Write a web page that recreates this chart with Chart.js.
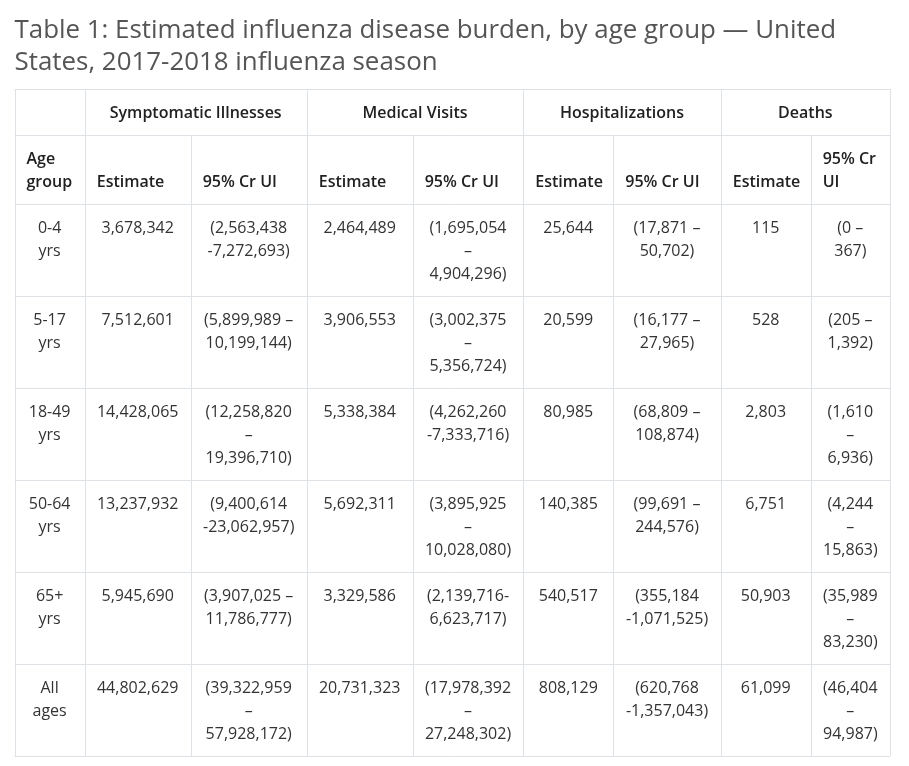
<!DOCTYPE html>
<html>
<head>
<meta charset="utf-8">
<script src="https://cdn.jsdelivr.net/npm/chart.js@4.4.1/dist/chart.umd.min.js"></script>
<style>
    html, body { margin: 0; padding: 0; background: #fff; }
</style>
</head>
<body>
<canvas id="burdenTable" width="909" height="766"></canvas>
<script>
// Table data
const titleLines = ['Table 1: Estimated influenza disease burden, by age group \u2014 United', 'States, 2017-2018 influenza season'];
const ageGroups = ['0-4 yrs', '5-17 yrs', '18-49 yrs', '50-64 yrs', '65+ yrs', 'All ages'];
const outcomes = ['Symptomatic Illnesses', 'Medical Visits', 'Hospitalizations', 'Deaths'];
const subHeaders = ['Estimate', '95% Cr UI'];
const ageHeader = 'Age group';

const illnessEst = [3678342, 7512601, 14428065, 13237932, 5945690, 44802629];
const illnessUI = ['(2,563,438 -7,272,693)', '(5,899,989 \u2013 10,199,144)', '(12,258,820 \u2013 19,396,710)',
    '(9,400,614 -23,062,957)', '(3,907,025 \u2013 11,786,777)', '(39,322,959 \u2013 57,928,172)'];

const visitEst = [2464489, 3906553, 5338384, 5692311, 3329586, 20731323];
const visitUI = ['(1,695,054 \u2013 4,904,296)', '(3,002,375 \u2013 5,356,724)', '(4,262,260 -7,333,716)',
    '(3,895,925 \u2013 10,028,080)', '(2,139,716-6,623,717)', '(17,978,392 \u2013 27,248,302)'];

const hospEst = [25644, 20599, 80985, 140385, 540517, 808129];
const hospUI = ['(17,871 \u2013 50,702)', '(16,177 \u2013 27,965)', '(68,809 \u2013 108,874)',
    '(99,691 \u2013 244,576)', '(355,184 -1,071,525)', '(620,768 -1,357,043)'];

const deathEst = [115, 528, 2803, 6751, 50903, 61099];
const deathUI = ['(0 \u2013 367)', '(205 \u2013 1,392)', '(1,610 \u2013 6,936)',
    '(4,244 \u2013 15,863)', '(35,989 \u2013 83,230)', '(46,404 \u2013 94,987)'];

// Layout
const colWidths = [70.2, 106, 116, 106, 110.6, 90, 107.4, 90, 79.3];
const lineH = 23;
const padX = 12;
const padY = 11.5;
const bodyFont = '16px "Open Sans", sans-serif';
const headFont = '600 16px "Open Sans", sans-serif';
const gridColor = '#dee2e6';

const fmt = n => n.toLocaleString('en-US');

// Break text the way the browser does: at spaces and after a hyphen that follows a non-space
function wrapText(ctx, text, maxW) {
    const segs = [];
    let cur = '';
    for (let i = 0; i < text.length; i++) {
        const ch = text[i];
        cur += ch;
        if (ch === ' ' || (ch === '-' && i > 0 && text[i - 1] !== ' ' && i < text.length - 1)) {
            segs.push(cur);
            cur = '';
        }
    }
    if (cur) segs.push(cur);
    const lines = [];
    let line = '';
    segs.forEach(s => {
        const test = line + s;
        if (line && ctx.measureText(test.trimEnd()).width > maxW) {
            lines.push(line.trimEnd());
            line = s;
        } else {
            line = test;
        }
    });
    if (line) lines.push(line.trimEnd());
    return lines;
}

// Build rows of cells
const bodyRows = ageGroups.map((age, i) => [
    age, fmt(illnessEst[i]), illnessUI[i], fmt(visitEst[i]), visitUI[i],
    fmt(hospEst[i]), hospUI[i], fmt(deathEst[i]), deathUI[i]
]);
const subRow = [ageHeader];
outcomes.forEach(() => subRow.push(...subHeaders));

const measureCtx = document.createElement('canvas').getContext('2d');
function cellLines(text, col, span, font) {
    measureCtx.font = font;
    let w = 0;
    for (let c = col; c < col + span; c++) w += colWidths[c];
    return wrapText(measureCtx, text, w - 2 * padX);
}

// row 1: outcome groups, row 2: sub headers, then body
const rows = [];
const topRow = [{ text: '', col: 0, span: 1 }];
outcomes.forEach((o, k) => topRow.push({ text: o, col: 1 + k * 2, span: 2 }));
rows.push(topRow.map(c => ({ ...c, lines: cellLines(c.text, c.col, c.span, headFont), head: true, align: 'center', valign: 'middle' })));
rows.push(subRow.map((t, c) => ({ text: t, col: c, span: 1, lines: cellLines(t, c, 1, headFont), head: true, align: 'left', valign: 'bottom' })));
bodyRows.forEach(r => {
    rows.push(r.map((t, c) => ({ text: t, col: c, span: 1, lines: cellLines(t, c, 1, bodyFont), head: false, align: 'center', valign: 'top' })));
});
const rowHeights = rows.map(r => Math.max(...r.map(c => Math.max(1, c.lines.length))) * lineH + 2 * padY);

const colEdges = [0];
colWidths.forEach(w => colEdges.push(colEdges[colEdges.length - 1] + w));
const rowEdges = [0];
rowHeights.forEach(h => rowEdges.push(rowEdges[rowEdges.length - 1] + h));

// Plugin that draws the grid and cell text through the chart scales
const tablePlugin = {
    id: 'tablePlugin',
    afterDraw(chart) {
        const { ctx, scales: { x, y } } = chart;
        const px = v => x.getPixelForValue(v);
        const py = v => y.getPixelForValue(v);
        ctx.save();
        ctx.strokeStyle = gridColor;
        ctx.lineWidth = 1;

        // horizontal lines
        rowEdges.forEach(e => {
            const yy = Math.round(py(e)) + 0.5;
            ctx.beginPath();
            ctx.moveTo(px(0), yy);
            ctx.lineTo(px(colEdges[colEdges.length - 1]), yy);
            ctx.stroke();
        });
        // vertical lines per row, honouring spans
        rows.forEach((r, ri) => {
            const y0 = py(rowEdges[ri]);
            const y1 = py(rowEdges[ri + 1]);
            const edges = new Set([0, colEdges[colEdges.length - 1]]);
            r.forEach(c => { edges.add(colEdges[c.col]); edges.add(colEdges[c.col + c.span]); });
            edges.forEach(e => {
                const xx = Math.round(px(e)) + 0.5;
                ctx.beginPath();
                ctx.moveTo(xx, y0);
                ctx.lineTo(xx, y1);
                ctx.stroke();
            });
        });

        // cell text
        ctx.textBaseline = 'alphabetic';
        rows.forEach((r, ri) => {
            const top = py(rowEdges[ri]);
            const bottom = py(rowEdges[ri + 1]);
            r.forEach(c => {
                if (!c.lines.length || !c.text) return;
                ctx.font = c.head ? headFont : bodyFont;
                ctx.fillStyle = c.head ? '#212121' : '#333333';
                const left = px(colEdges[c.col]);
                const right = px(colEdges[c.col + c.span]);
                const blockH = c.lines.length * lineH;
                let startY;
                if (c.valign === 'top') startY = top + padY;
                else if (c.valign === 'bottom') startY = bottom - padY - blockH;
                else startY = (top + bottom - blockH) / 2;
                c.lines.forEach((ln, li) => {
                    const base = startY + li * lineH + 17.7;
                    if (c.align === 'left') {
                        ctx.textAlign = 'left';
                        ctx.fillText(ln, left + padX, base);
                    } else {
                        ctx.textAlign = 'center';
                        ctx.fillText(ln, (left + right) / 2, base);
                    }
                });
            });
        });
        ctx.restore();
    }
};

const tableChart = new Chart(document.getElementById('burdenTable').getContext('2d'), {
    type: 'scatter',
    data: { datasets: [] },
    options: {
        responsive: false,
        animation: false,
        events: [],
        layout: { padding: { left: 14.5, right: 19, top: 15, bottom: 10 } },
        plugins: {
            legend: { display: false },
            tooltip: { enabled: false },
            title: {
                display: true,
                text: titleLines,
                align: 'start',
                color: '#555555',
                font: { family: '"Open Sans", sans-serif', size: 25.9, weight: 'normal', lineHeight: 32 / 25.9 },
                padding: { top: 0, bottom: 10 }
            }
        },
        scales: {
            x: { type: 'linear', display: false, min: 0, max: colEdges[colEdges.length - 1] },
            y: { type: 'linear', display: false, reverse: true, min: 0, max: rowEdges[rowEdges.length - 1] }
        }
    },
    plugins: [tablePlugin]
});
</script>
</body>
</html>
